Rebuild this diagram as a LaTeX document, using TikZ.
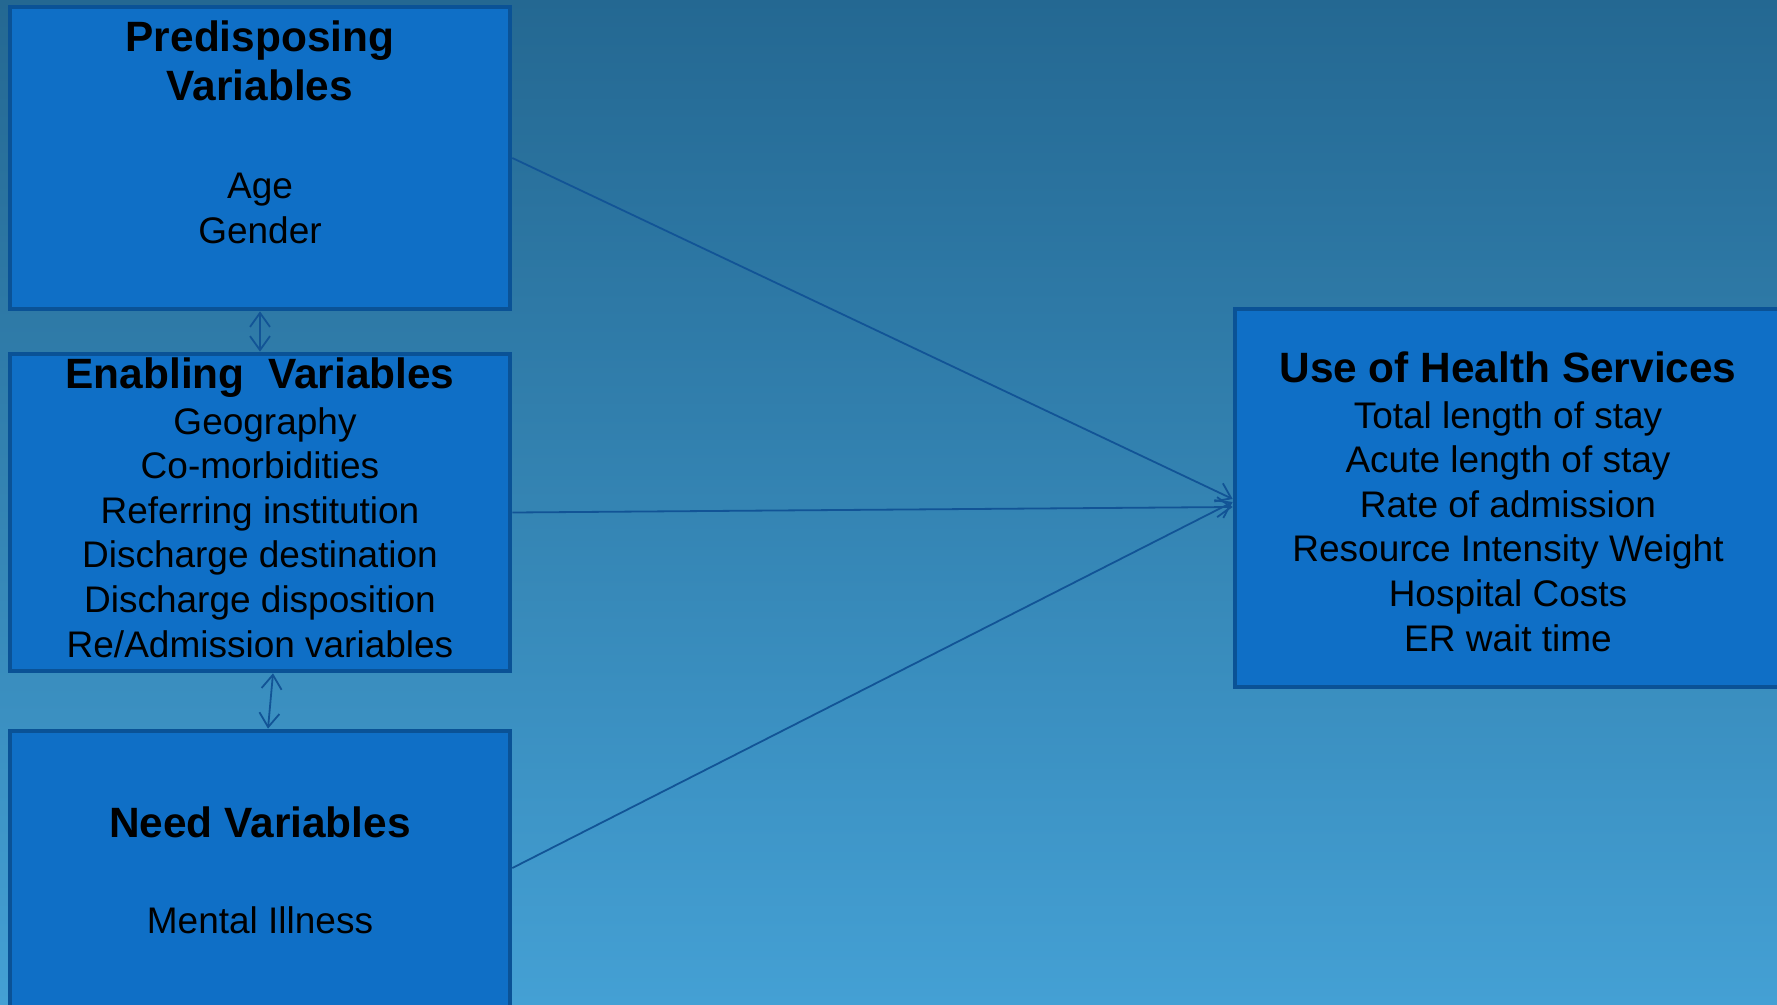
\documentclass[tikz,border=0pt]{standalone}
\usepackage{fontspec}
\setmainfont{Liberation Sans}
\usetikzlibrary{arrows.meta}
\definecolor{boxfill}{RGB}{15,111,198}
\definecolor{boxline}{RGB}{10,82,150}
\definecolor{linkcol}{RGB}{18,84,150}
\definecolor{bgtop}{RGB}{36,104,146}
\definecolor{bgbot}{RGB}{68,160,212}
\tikzset{
  varbox/.style={rectangle, draw=boxline, line width=4.7pt, fill=boxfill, inner sep=0pt},
  headtext/.style={font=\fontsize{42.4}{49}\selectfont\bfseries, anchor=base, inner sep=0pt},
  itemtext/.style={font=\fontsize{37}{44.6}\selectfont, anchor=base, inner sep=0pt},
  link/.style={draw=linkcol, line width=1.8pt, -{Straight Barb[length=14pt,width=20pt]}},
  twoway/.style={link, {Straight Barb[length=14pt,width=20pt]}-{Straight Barb[length=14pt,width=20pt]}}
}
\begin{document}
\begin{tikzpicture}[x=1pt,y=-1pt]
\useasboundingbox (0,0) rectangle (1777,1004);
\clip (0,0) rectangle (1777,1004);
% background
\shade[top color=bgtop, bottom color=bgbot] (0,0) rectangle (1777,1004);
%%% boxes
\node[varbox, minimum width=500pt, minimum height=302pt] (pred) at (260,158) {};
\node[varbox, minimum width=500pt, minimum height=317pt] (enab) at (260,512.5) {};
\node[varbox, minimum width=500pt, minimum height=308pt] (need) at (260,885) {};
\node[varbox, minimum width=546pt, minimum height=378pt] (use) at (1508,498) {};
%%% texts
% predisposing
\node[headtext] (predhead1) at (260,51) {Predisposing};
\node[headtext] (predhead2) at (260,100) {Variables};
\node[itemtext] (predage) at (260,198) {Age};
\node[itemtext] (predgender) at (260,243) {Gender};
% enabling
\node[headtext] (enabhead) at (260,388) {Enabling\ \ Variables};
\node[itemtext] (enab1) at (265,434) {Geography};
\foreach \txt [count=\i] in {Co-morbidities, Referring institution, Discharge destination, Discharge disposition, Re/Admission variables}
  \node[itemtext] (enab\i) at (260,{434+44.6*\i}) {\txt};
% need
\node[headtext] (needhead) at (260,837) {Need Variables};
\node[itemtext] (needitem) at (260,933) {Mental Illness};
% use of health services
\node[headtext] (usehead) at (1508,382) {Use of Health Services};
\foreach \txt [count=\i] in {Total length of stay, Acute length of stay, Rate of admission, Resource Intensity Weight, Hospital Costs, ER wait time}
  \node[itemtext] (use\i) at (1508,{383.5+44.6*\i}) {\txt};
%%% connectors
\draw[twoway] (pred.south) -- (enab.north);
\draw[twoway] ([xshift=13pt]enab.south) -- ([xshift=8pt]need.north);
\draw[link] (pred.east) -- ([yshift=-1pt]use.west);
\draw[link] (enab.east) -- ([yshift=-9pt]use.west);
\draw[link] ([yshift=17pt]need.east) -- ([yshift=-4pt]use.west);
\end{tikzpicture}
\end{document}
